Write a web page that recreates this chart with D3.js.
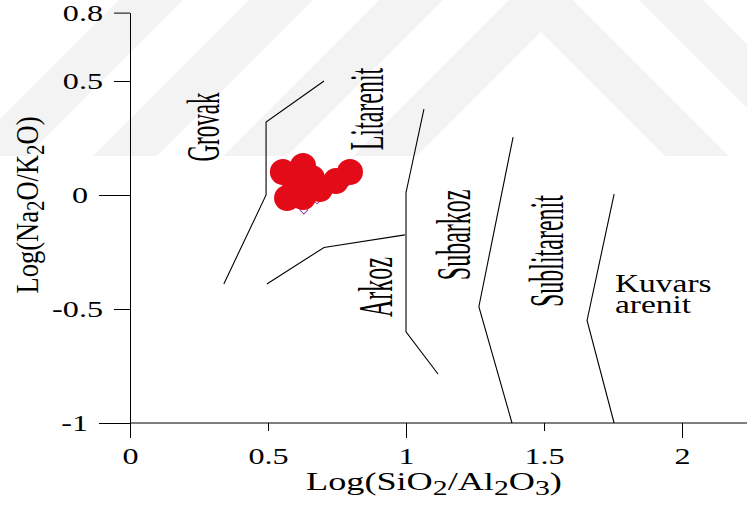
<!DOCTYPE html>
<html>
<head>
<meta charset="utf-8">
<script src="https://cdn.jsdelivr.net/npm/d3@7"></script>
<style>
  body { margin: 0; background: #fff; }
  text { font-family: "Liberation Serif", "Times New Roman", serif; fill: #000; }
</style>
</head>
<body>
<svg id="chart"></svg>
<script>
const WIDTH = 747
const HEIGHT = 505
const SVG = d3.select('#chart').attr('width', WIDTH).attr('height', HEIGHT)

// ticks
const xTicks = [0, 0.5, 1, 1.5, 2]
const yTicks = [-1, -0.5, 0, 0.5, 0.8]
const majorX = [0, 1, 2]
const majorY = [0, -1]

// field boundaries, [log(SiO2/Al2O3), log(Na2O/K2O)]
const grovakLine = [[0.34, -0.39], [0.493, 0], [0.493, 0.32], [0.703, 0.5]]
const arkozLine = [[0.496, -0.39], [0.703, -0.23], [0.996, -0.175]]
const subarkozLine = [[1.065, 0.377], [1.0, 0.01], [1.0, -0.6], [1.116, -0.785]]
const sublitLine = [[1.388, 0.254], [1.264, -0.49], [1.384, -1.0]]
const kuvarsLine = [[1.754, 0.004], [1.656, -0.55], [1.754, -1.0]]

// samples (red)
const samplesX = [0.554, 0.627, 0.797, 0.746, 0.688, 0.627, 0.569, 0.598, 0.659]
const samplesY = [0.101, 0.127, 0.101, 0.061, 0.026, -0.009, -0.013, 0.053, 0.075]
// purple open symbols, mostly hidden under the red ones
const otherX = [0.630, 0.678, 0.717, 0.790]
const otherY = [-0.066, -0.022, 0.018, 0.057]

// field names
const rotLabels = ['Grovak', 'Litarenit', 'Arkoz', 'Subarkoz', 'Sublitarenit']
const rotLabelX = [0.322, 0.917, 0.949, 1.232, 1.569]
const rotLabelY = [0.298, 0.377, -0.404, -0.175, -0.246]
const kuvarsText = ['Kuvars', 'arenit']
const kuvarsX = 1.757
const kuvarsY = [-0.425, -0.518]

const x = d3.scaleLinear().domain([0, 2]).range([130, 682])
const y = d3.scaleLinear().domain([-1, 0.8]).range([423, 12.6])

// faint watermark chevrons in the background
const wm = SVG.append('g')
SVG.append('clipPath').attr('id', 'wmclip').append('rect')
  .attr('x', 0).attr('y', 0).attr('width', WIDTH).attr('height', 156)
;[-358, -228, -98, 32].forEach(a => {
  const c = a - 32
  wm.append('path')
    .attr('d', `M${541 - 700},${c + 700}L541,${c}L${541 + 700},${c + 700}`)
    .attr('fill', 'none').attr('stroke', '#f3f3f3').attr('stroke-width', 45)
    .attr('stroke-linejoin', 'miter').attr('clip-path', 'url(#wmclip)')
})

// stretch of the text glyphs in the picture
const SX = 1.34

// y axis
let yAxis = d3.axisLeft(y).tickValues(yTicks).tickSize(16).tickSizeOuter(0)
  .tickFormat(d => d === 0 ? '0' : d === -1 ? '-1' : String(d))
let gy = SVG.append('g').attr('transform', `translate(${x(0)},0)`).call(yAxis)
gy.selectAll('.tick line').attr('x2', d => majorY.includes(d) ? -31 : -16)
gy.selectAll('.tick text')
  .attr('x', d => (majorY.includes(d) ? -42 : -27) / SX)
  .attr('transform', `scale(${SX},1)`)
  .style('font-size', '24px').attr('font-family', null)
gy.select('.domain').attr('stroke', '#000')
gy.selectAll('line').attr('stroke', '#000')

// x axis
let xAxis = d3.axisBottom(x).tickValues(xTicks).tickSize(8).tickSizeOuter(0)
  .tickFormat(d => String(d))
let gx = SVG.append('g').attr('transform', `translate(0,${y(-1)})`).call(xAxis)
gx.select('.domain').remove()
gx.selectAll('.tick line').attr('y2', d => majorX.includes(d) ? 15 : 8).attr('stroke', '#000')
gx.selectAll('.tick text')
  .attr('y', 24).attr('dy', '0.71em')
  .attr('transform', `scale(${SX},1)`)
  .style('font-size', '24px').attr('font-family', null)
SVG.append('line')
  .attr('x1', x(0)).attr('x2', WIDTH).attr('y1', y(-1)).attr('y2', y(-1))
  .attr('stroke', '#000')

// axis titles
const xt = SVG.append('g').attr('transform', `translate(434,490) scale(1.42,1)`)
  .append('text').attr('text-anchor', 'middle').style('font-size', '25.5px')
xt.append('tspan').text('Log(SiO')
xt.append('tspan').text('2').attr('dy', 5).style('font-size', '21px')
xt.append('tspan').text('/Al').attr('dy', -5)
xt.append('tspan').text('2').attr('dy', 5).style('font-size', '21px')
xt.append('tspan').text('O').attr('dy', -5)
xt.append('tspan').text('3').attr('dy', 5).style('font-size', '21px')
xt.append('tspan').text(')').attr('dy', -5)

const yt = SVG.append('g').attr('transform', `translate(38,205) scale(1.17,1) rotate(-90)`)
  .append('text').attr('text-anchor', 'middle').style('font-size', '26.5px')
yt.append('tspan').text('Log(Na')
yt.append('tspan').text('2').attr('dy', 5).style('font-size', '21px')
yt.append('tspan').text('O/K').attr('dy', -5)
yt.append('tspan').text('2').attr('dy', 5).style('font-size', '21px')
yt.append('tspan').text('O)').attr('dy', -5)

// boundaries
const line = d3.line().x(d => x(d[0])).y(d => y(d[1]))
;[grovakLine, arkozLine, subarkozLine, sublitLine, kuvarsLine].forEach(l => {
  SVG.append('path').attr('d', line(l)).attr('fill', 'none')
    .attr('stroke', '#000').attr('stroke-width', 1.1)
})

// field names
rotLabels.forEach((t, i) => {
  SVG.append('g')
    .attr('transform', `translate(${x(rotLabelX[i])},${y(rotLabelY[i])}) scale(2,1) rotate(-90)`)
    .append('text').attr('text-anchor', 'middle')
    .style('font-size', i === 0 ? '23px' : '24px').text(t)
})
kuvarsText.forEach((t, i) => {
  SVG.append('g')
    .attr('transform', `translate(${x(kuvarsX)},${y(kuvarsY[i])}) scale(${SX},1)`)
    .append('text').style('font-size', '25px').text(t)
})

// samples
const sym = d3.symbol().type(d3.symbolSquare).size(30)
SVG.append('g').selectAll('path').data(otherX).join('path')
  .attr('d', sym)
  .attr('transform', (d, i) => `translate(${x(d)},${y(otherY[i])}) rotate(45)`)
  .attr('fill', 'none').attr('stroke', '#9a3fa8').attr('stroke-width', 1)
SVG.append('g').selectAll('circle').data(samplesX).join('circle')
  .attr('cx', d => x(d))
  .attr('cy', (d, i) => y(samplesY[i]))
  .attr('r', 13)
  .attr('fill', '#e20b17')
</script>
</body>
</html>
